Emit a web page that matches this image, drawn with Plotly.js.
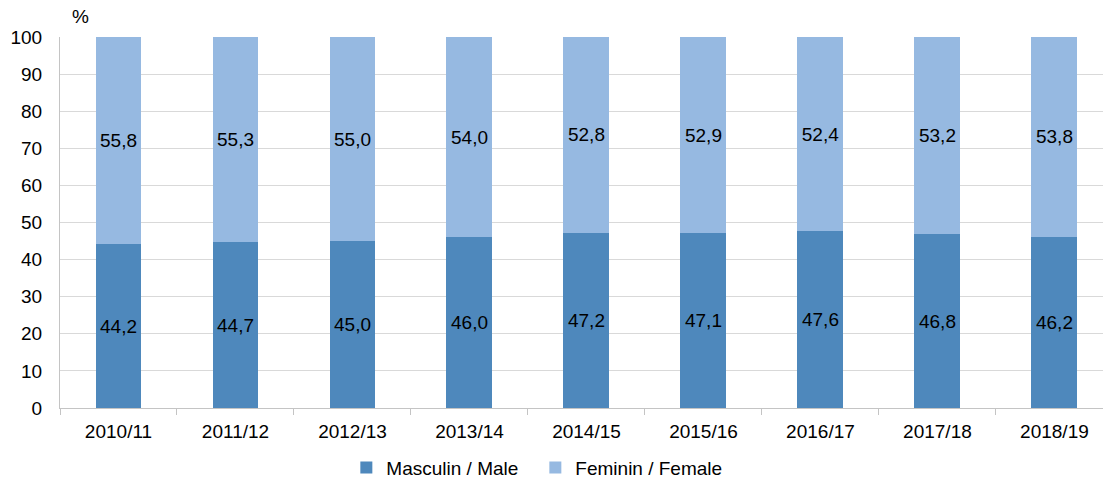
<!DOCTYPE html>
<html>
<head>
<meta charset="utf-8">
<script src="https://cdn.plot.ly/plotly-3.0.1.min.js"></script>
<style>
  html, body { margin: 0; padding: 0; background: #fff; }
  #chart { width: 1103px; height: 483px; }
</style>
</head>
<body>
<div id="chart"></div>
<script>
var years = ['2010/11', '2011/12', '2012/13', '2013/14', '2014/15', '2015/16', '2016/17', '2017/18', '2018/19'];
var male = [44.2, 44.7, 45.0, 46.0, 47.2, 47.1, 47.6, 46.8, 46.2];
var female = [55.8, 55.3, 55.0, 54.0, 52.8, 52.9, 52.4, 53.2, 53.8];

var labelFont = {family: 'Liberation Sans, Arial, sans-serif', size: 19, color: '#000'};

var traceMale = {
  x: years,
  y: male,
  name: 'Masculin / Male',
  type: 'bar',
  marker: {color: '#4E88BC'},
  texttemplate: '%{y:.1f}',
  textposition: 'inside',
  insidetextanchor: 'middle',
  textfont: labelFont,
  hoverinfo: 'y'
};
var traceFemale = {
  x: years,
  y: female,
  name: 'Feminin / Female',
  type: 'bar',
  marker: {color: '#96B9E1'},
  texttemplate: '%{y:.1f}',
  textposition: 'inside',
  insidetextanchor: 'middle',
  textfont: labelFont,
  hoverinfo: 'y'
};

var layout = {
  width: 1103,
  height: 483,
  barmode: 'stack',
  bargap: 0.607,
  separators: ',.',
  margin: {l: 60, r: 0, t: 37, b: 75},
  font: {family: 'Liberation Sans, Arial, sans-serif', size: 19, color: '#000'},
  paper_bgcolor: '#fff',
  plot_bgcolor: '#fff',
  xaxis: {
    range: [-0.5, 8.415],
    showline: true,
    linecolor: '#c4c4c4',
    linewidth: 1,
    showgrid: false,
    ticks: 'outside',
    tickson: 'boundaries',
    ticklen: 6,
    tickcolor: '#c4c4c4',
    ticklabelstandoff: 6,
    automargin: false,
    tickfont: {size: 19}
  },
  yaxis: {
    range: [0, 100],
    dtick: 10,
    showline: true,
    linecolor: '#c4c4c4',
    linewidth: 1,
    gridcolor: '#d9d9d9',
    zeroline: false,
    ticks: '',
    ticklabelstandoff: 13,
    automargin: false,
    tickfont: {size: 19}
  },
  legend: {
    orientation: 'h',
    xref: 'container',
    yref: 'container',
    x: 0.314,
    xanchor: 'left',
    y: 0.032,
    yanchor: 'middle',
    font: {size: 19},
    entrywidth: 144,
    entrywidthmode: 'pixels',
    traceorder: 'normal'
  },
  annotations: [{
    text: '%',
    xref: 'paper', yref: 'paper',
    x: 0.020, y: 1.0,
    xanchor: 'center', yanchor: 'bottom',
    yshift: 8,
    showarrow: false,
    font: {size: 19}
  }],
  showlegend: true
};

Plotly.newPlot('chart', [traceMale, traceFemale], layout, {displayModeBar: false, staticPlot: true});
</script>
</body>
</html>
